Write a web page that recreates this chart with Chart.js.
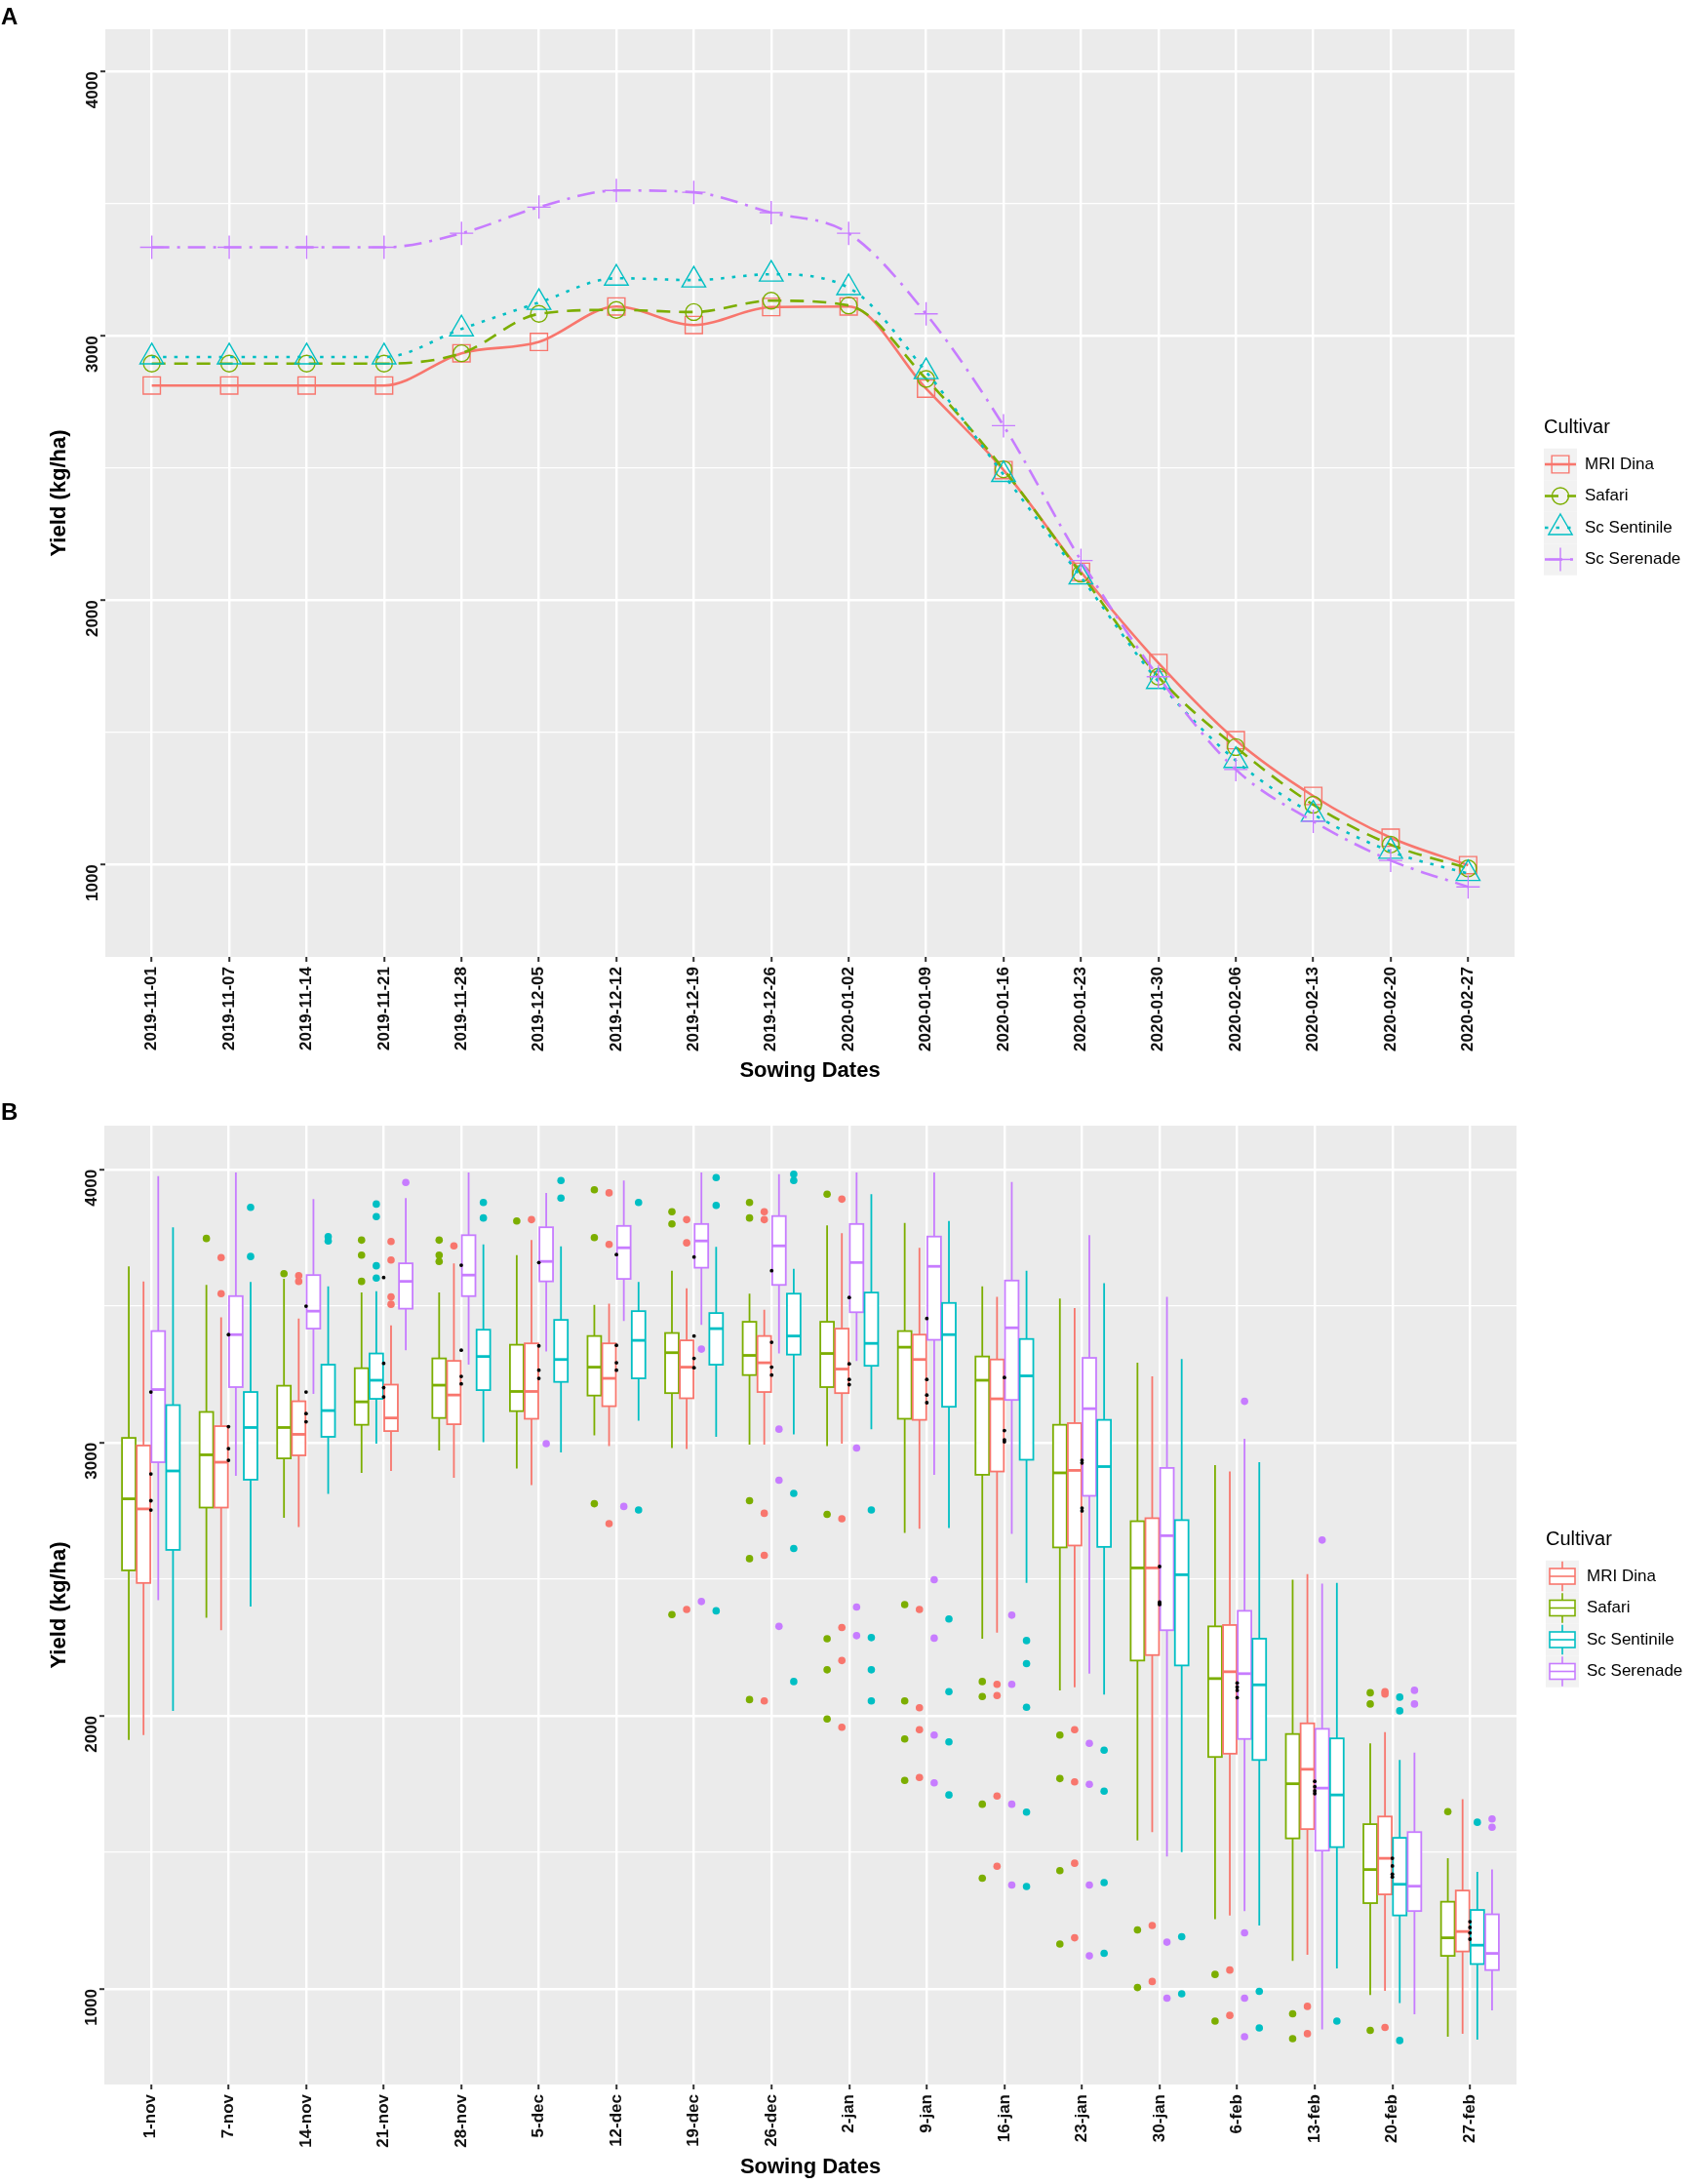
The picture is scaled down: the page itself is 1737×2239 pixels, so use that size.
<!DOCTYPE html>
<html>
<head>
<meta charset="utf-8">
<script src="https://cdn.jsdelivr.net/npm/chart.js@4.4.1/dist/chart.umd.min.js"></script>
<style>
html,body{margin:0;padding:0;background:#fff;}
body{width:1737px;height:2239px;position:relative;overflow:hidden;font-family:"Liberation Sans",Arial,sans-serif;}
canvas{position:absolute;left:0;}
#chartA{top:0;width:1737px;height:1130px;}
#chartB{top:1130px;width:1737px;height:1109px;}
.panel{position:absolute;left:1px;font-weight:bold;font-size:24px;line-height:24px;z-index:2;color:#000;}
</style>
</head>
<body>
<div class="panel" style="top:5px">A</div>
<canvas id="chartA" width="1737" height="1130"></canvas>
<div class="panel" style="top:1128px">B</div>
<canvas id="chartB" width="1737" height="1109"></canvas>
<script>
const sowingDates = ["2019-11-01","2019-11-07","2019-11-14","2019-11-21","2019-11-28","2019-12-05","2019-12-12","2019-12-19","2019-12-26","2020-01-02","2020-01-09","2020-01-16","2020-01-23","2020-01-30","2020-02-06","2020-02-13","2020-02-20","2020-02-27"];
const shortDates = ["1-nov","7-nov","14-nov","21-nov","28-nov","5-dec","12-dec","19-dec","26-dec","2-jan","9-jan","16-jan","23-jan","30-jan","6-feb","13-feb","20-feb","27-feb"];
const cultivars = ["MRI Dina","Safari","Sc Sentinile","Sc Serenade"];
const colours = ["#F8766D","#7CAE00","#00BFC4","#C77CFF"];
// y gridlines; only the thousands carry a label
const yTicks = [1000, 1500, 2000, 2500, 3000, 3500, 4000];

// panel A - yield per sowing date
const yieldMriDina = [2812,2812,2812,2812,2934,2977,3111,3041,3109,3111,2800,2492,2107,1762,1470,1259,1101,997];
const yieldSafari = [2895,2895,2895,2895,2934,3083,3098,3090,3133,3115,2837,2495,2100,1710,1444,1226,1075,985];
const yieldSentinile = [2920,2920,2920,2920,3026,3126,3218,3211,3233,3182,2864,2475,2087,1692,1393,1190,1049,965];
const yieldSerenade = [3335,3335,3335,3335,3388,3487,3550,3543,3466,3388,3083,2660,2150,1710,1359,1163,1015,915];

// panel B - [lower whisker, q1, median, q3, upper whisker]
const boxMriDina = [[1929,2486,2757,2989,3590],[2313,2762,2928,3060,3458],[2691,2953,3030,3151,3454],[2896,3042,3090,3212,3429],[2871,3067,3174,3299,3656],[2844,3087,3187,3363,3741],[2987,3133,3235,3363,3508],[2976,3162,3276,3374,3565],[2992,3185,3292,3390,3486],[2996,3181,3269,3417,3766],[2684,3083,3304,3395,3713],[2304,2894,3160,3304,3533],[2104,2623,2898,3071,3492],[1574,2222,2541,2723,3242],[1269,1861,2161,2332,2894],[1125,1585,1804,1972,2518],[993,1346,1478,1631,1940],[836,1137,1210,1360,1694]];
const boxSafari = [[1911,2532,2794,3017,3645],[2359,2762,2955,3112,3577],[2725,2942,3055,3208,3599],[2889,3065,3149,3272,3549],[2971,3090,3210,3308,3549],[2905,3115,3187,3358,3686],[3026,3172,3276,3390,3504],[2980,3181,3329,3401,3629],[2992,3247,3319,3442,3545],[2987,3203,3326,3442,3795],[2669,3087,3349,3408,3804],[2282,2882,3228,3315,3572],[2093,2616,2889,3065,3527],[1544,2202,2541,2712,3292],[1255,1849,2136,2327,2917],[1103,1551,1751,1933,2498],[978,1314,1437,1603,1899],[825,1121,1187,1319,1478]];
const boxSentinile = [[2018,2607,2896,3137,3788],[2400,2864,3055,3185,3588],[2812,3021,3117,3285,3572],[2996,3160,3228,3326,3554],[3001,3192,3315,3413,3725],[2964,3222,3304,3449,3718],[3080,3235,3374,3481,3588],[3021,3285,3417,3474,3716],[3030,3322,3390,3545,3636],[3049,3281,3363,3549,3909],[2687,3131,3395,3511,3811],[2486,2937,3244,3379,3629],[2077,2618,2912,3083,3583],[1501,2184,2516,2716,3306],[1232,1838,2113,2282,2928],[1075,1519,1710,1917,2486],[948,1269,1383,1553,1838],[814,1091,1160,1289,1428]];
const boxSerenade = [[2423,2928,3194,3408,3975],[2878,3203,3395,3536,3989],[3178,3417,3481,3613,3891],[3338,3490,3590,3656,3895],[3285,3536,3613,3759,3989],[3333,3590,3663,3788,3914],[3445,3599,3713,3793,3959],[3431,3640,3738,3800,3989],[3326,3577,3720,3829,3982],[3299,3477,3659,3800,3989],[2882,3376,3645,3754,3989],[2666,3156,3420,3593,3954],[2154,2805,3124,3310,3759],[1485,2313,2659,2907,3533],[1285,1915,2154,2384,3014],[852,1506,1735,1952,2484],[907,1285,1376,1574,1865],[921,1069,1130,1273,1437]];

// outliers per sowing date
const outMriDina = [[],[3677,3545],[3611,3590],[3736,3668,3533,3506],[3720],[3816],[3914,3725,2703],[3816,3731,2389],[3845,3816,2741,2587,2054],[3891,2721,2323,2202,1958],[2389,2029,1949,1774],[2115,2074,1706,1449],[1949,1758,1460,1187],[1232,1027],[1069,903],[936,836],[2088,2079,859],[]];
const outSafari = [[],[3747],[3618],[3741,3686,3590],[3741,3686,3663],[3811],[3925,3750,2776],[3845,3800,2370],[3879,3822,2787,2575,2059],[3909,2737,2282,2168,1988],[2407,2054,1915,1763],[2125,2070,1676,1405],[1929,1770,1433,1164],[1216,1005],[1053,882],[909,818],[2084,2043,848],[1649]];
const outSentinile = [[],[3861,3681],[3754,3738],[3873,3827,3647,3602],[3879,3822],[3959,3895],[3879,2753],[3970,3868,2384],[3982,3959,2814,2612,2125],[2753,2286,2168,2054],[2354,2088,1904,1710],[2275,2191,2031,1647,1375],[1874,1724,1389,1130],[1191,982],[991,857],[882],[2068,2018,811],[1610]];
const outSerenade = [[],[],[],[3952],[],[2996],[2766],[3342,2418],[3049,2862,2327],[2980,2398,2293],[2498,2284,1929,1754],[2368,2115,1676,1380],[1899,1749,1380,1121],[1171,966],[3151,1205,966,825],[2643],[2093,2043],[1622,1592]];

// cultivar means (black dots at the date centre)
const meanDots = [[3185,2885,2787,2753],[3395,3058,2978,2935],[3499,3185,3106,3076],[3604,3290,3201,3167],[3649,3338,3242,3215],[3659,3354,3265,3235],[3688,3356,3292,3265],[3679,3390,3308,3274],[3629,3367,3276,3247],[3531,3288,3231,3212],[3454,3231,3174,3146],[3238,3044,3003,3010],[2935,2925,2760,2750],[2546,2416,2407,2410],[2120,2093,2066,2105],[1760,1740,1725,1715],[1478,1450,1420,1410],[1246,1225,1205,1182]];

// left-to-right cultivar order inside each date (index into cultivars)
const dodgeOrder = [[1,0,3,2],[1,0,3,2],[1,0,3,2],[1,2,0,3],[1,0,3,2],[1,0,3,2],[1,0,3,2],[1,0,3,2],[1,0,3,2],[1,0,3,2],[1,0,3,2],[1,0,3,2],[1,0,3,2],[1,0,3,2],[1,0,3,2],[1,0,3,2],[1,0,2,3],[1,0,2,3]];

const boxStats = [boxMriDina, boxSafari, boxSentinile, boxSerenade];
const outStats = [outMriDina, outSafari, outSentinile, outSerenade];

const FONT = '"Liberation Sans", Arial, sans-serif';
Chart.defaults.font.family = FONT;

const slotWidth = 0.19;
const boxWidth = 0.175;
function dodge(i, ci) {
  return (dodgeOrder[i].indexOf(ci) - 1.5) * slotWidth;
}

function xAxis(labels, height, titlePad) {
  return {
    type: 'linear',
    min: -0.6,
    max: labels.length - 0.4,
    afterFit: s => { s.height = height; },
    afterBuildTicks: s => { s.ticks = labels.map((l, i) => ({value: i})); },
    ticks: {
      autoSkip: false, minRotation: 90, maxRotation: 90, padding: 5,
      color: '#111', font: {size: 17, weight: 'bold'},
      callback: v => labels[v]
    },
    grid: {color: '#fff', lineWidth: 2.4, tickLength: 5, tickWidth: 2, tickColor: '#333'},
    border: {display: false},
    title: {display: true, text: 'Sowing Dates', color: '#000', font: {size: 22, weight: 'bold'}, padding: {bottom: titlePad}}
  };
}

function yAxis(width) {
  return {
    type: 'linear',
    min: 650,
    max: 4160,
    afterFit: s => { s.width = width; },
    afterBuildTicks: s => { s.ticks = yTicks.map(v => ({value: v})); },
    ticks: {
      autoSkip: false, minRotation: 90, maxRotation: 90, padding: 8,
      color: '#111', font: {size: 17, weight: 'bold'},
      callback: v => (v % 1000 === 0 ? String(v) : '')
    },
    grid: {
      color: '#fff',
      lineWidth: c => (c.tick && c.tick.value % 1000 ? 1.2 : 2.4),
      tickLength: 5, tickWidth: 2,
      tickColor: c => (c.tick && c.tick.value % 1000 ? 'rgba(0,0,0,0)' : '#333')
    },
    border: {display: false},
    title: {display: true, text: 'Yield (kg/ha)', color: '#000', font: {size: 22, weight: 'bold'}, padding: {top: 48}}
  };
}

const plotBg = {
  id: 'plotBg',
  beforeDraw(chart) {
    const {ctx, chartArea: a} = chart;
    ctx.save();
    ctx.fillStyle = '#EBEBEB';
    ctx.fillRect(a.left, a.top, a.width, a.height);
    ctx.restore();
  }
};

const keyLegend = {
  id: 'keyLegend',
  afterDraw(chart, args, opts) {
    const {ctx, chartArea: a} = chart;
    const x0 = a.right + 30;
    const mid = (a.top + a.bottom) / 2;
    const kw = 34, kh = 32.5;
    ctx.save();
    ctx.textBaseline = 'middle';
    ctx.textAlign = 'left';
    ctx.fillStyle = '#000';
    ctx.font = '20px ' + FONT;
    ctx.fillText('Cultivar', x0, mid - 67);
    cultivars.forEach((name, k) => {
      const cy = mid - 29.5 + k * kh;
      const col = colours[k];
      ctx.fillStyle = '#F2F2F2';
      ctx.fillRect(x0, cy - kh / 2, kw, kh);
      ctx.strokeStyle = col;
      if (opts.kind === 'line') {
        const ds = chart.data.datasets[k];
        ctx.lineWidth = ds.borderWidth;
        ctx.setLineDash(ds.borderDash || []);
        ctx.beginPath();
        ctx.moveTo(x0 + 1, cy);
        ctx.lineTo(x0 + kw - 1, cy);
        ctx.stroke();
        ctx.setLineDash([]);
        ctx.lineWidth = ds.pointBorderWidth;
        ctx.fillStyle = 'rgba(0,0,0,0)';
        Chart.helpers.drawPoint(ctx, {pointStyle: ds.pointStyle, radius: ds.pointRadius, borderWidth: ds.pointBorderWidth, rotation: 0}, x0 + kw / 2, cy);
      } else {
        const bx = x0 + 4, bw = 26, bh = 16;
        ctx.lineWidth = 1.6;
        ctx.beginPath();
        ctx.moveTo(x0 + kw / 2, cy - kh / 2 + 1);
        ctx.lineTo(x0 + kw / 2, cy - bh / 2);
        ctx.moveTo(x0 + kw / 2, cy + bh / 2);
        ctx.lineTo(x0 + kw / 2, cy + kh / 2 - 1);
        ctx.stroke();
        ctx.fillStyle = '#fff';
        ctx.fillRect(bx, cy - bh / 2, bw, bh);
        ctx.strokeRect(bx, cy - bh / 2, bw, bh);
        ctx.beginPath();
        ctx.moveTo(bx, cy);
        ctx.lineTo(bx + bw, cy);
        ctx.stroke();
      }
      ctx.fillStyle = '#000';
      ctx.font = '17px ' + FONT;
      ctx.fillText(name, x0 + 42, cy);
    });
    ctx.restore();
  }
};

const boxDraw = {
  id: 'boxDraw',
  beforeDatasetsDraw(chart) {
    const {ctx, scales: {x, y}} = chart;
    const half = (x.getPixelForValue(boxWidth) - x.getPixelForValue(0)) / 2;
    ctx.save();
    for (let i = 0; i < shortDates.length; i++) {
      dodgeOrder[i].forEach(ci => {
        const b = boxStats[ci][i].map(v => y.getPixelForValue(v));
        const cx = x.getPixelForValue(i + dodge(i, ci));
        ctx.strokeStyle = colours[ci];
        ctx.lineWidth = 1.8;
        ctx.beginPath();
        ctx.moveTo(cx, b[4]); ctx.lineTo(cx, b[3]);
        ctx.moveTo(cx, b[1]); ctx.lineTo(cx, b[0]);
        ctx.stroke();
        ctx.fillStyle = '#fff';
        ctx.fillRect(cx - half, b[3], 2 * half, b[1] - b[3]);
        ctx.strokeRect(cx - half, b[3], 2 * half, b[1] - b[3]);
        ctx.lineWidth = 2.8;
        ctx.beginPath();
        ctx.moveTo(cx - half, b[2]); ctx.lineTo(cx + half, b[2]);
        ctx.stroke();
      });
    }
    ctx.restore();
  }
};

// ---- panel A
const lineSeries = [yieldMriDina, yieldSafari, yieldSentinile, yieldSerenade];
const dashes = [[], [14, 9], [3.5, 8], [18, 8, 3, 8]];
const markers = [['rect', 12.5], ['circle', 8.5], ['triangle', 14], ['cross', 12]];

new Chart(document.getElementById('chartA'), {
  type: 'line',
  data: {
    datasets: lineSeries.map((vals, k) => ({
      label: cultivars[k],
      data: vals.map((v, i) => ({x: i, y: v})),
      borderColor: colours[k],
      borderWidth: 2.6,
      borderDash: dashes[k],
      cubicInterpolationMode: 'monotone',
      pointStyle: markers[k][0],
      pointRadius: markers[k][1],
      pointBorderWidth: 1.4,
      pointBorderColor: colours[k],
      pointBackgroundColor: 'rgba(0,0,0,0)',
      order: 4 - k,
      fill: false
    }))
  },
  options: {
    responsive: false,
    animation: false,
    devicePixelRatio: 1,
    events: [],
    layout: {padding: {top: 30, right: 184, left: 0, bottom: 0}},
    plugins: {legend: {display: false}, tooltip: {enabled: false}, keyLegend: {kind: 'line'}},
    scales: {x: xAxis(sowingDates, 149, 19), y: yAxis(108)}
  },
  plugins: [plotBg, keyLegend]
});

// ---- panel B
const outlierSets = outStats.map((outs, ci) => {
  const pts = [];
  outs.forEach((list, i) => list.forEach(v => pts.push({x: i + dodge(i, ci), y: v})));
  return {
    label: cultivars[ci],
    data: pts,
    pointRadius: 3.8,
    pointBorderWidth: 0,
    pointBackgroundColor: colours[ci],
    pointBorderColor: colours[ci]
  };
});
const meanPts = [];
meanDots.forEach((list, i) => list.forEach(v => meanPts.push({x: i, y: v})));

new Chart(document.getElementById('chartB'), {
  type: 'scatter',
  data: {
    datasets: [{
      label: 'mean',
      data: meanPts,
      pointRadius: 1.9,
      pointBorderWidth: 0,
      pointBackgroundColor: '#000'
    }].concat(outlierSets)
  },
  options: {
    responsive: false,
    animation: false,
    devicePixelRatio: 1,
    events: [],
    layout: {padding: {top: 24, right: 182, left: 0, bottom: 0}},
    plugins: {legend: {display: false}, tooltip: {enabled: false}, keyLegend: {kind: 'box'}},
    scales: {x: xAxis(shortDates, 102, 4), y: yAxis(107)}
  },
  plugins: [plotBg, boxDraw, keyLegend]
});
</script>
</body>
</html>
